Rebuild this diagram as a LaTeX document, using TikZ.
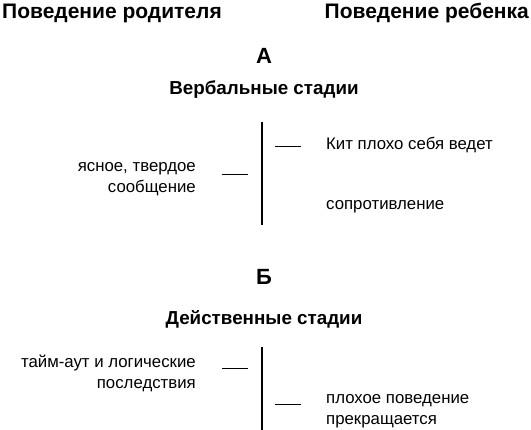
\documentclass[tikz,border=0pt]{standalone}
\usepackage{fontspec}
\setmainfont{Liberation Sans}
\usepackage{tikz}
\usetikzlibrary{positioning}
\tikzset{
    colhead/.style={
        font=\fontsize{21}{24}\selectfont\bfseries, inner sep=0pt
    },
    stagelabel/.style={
        font=\fontsize{22}{26}\selectfont\bfseries, inner sep=0pt
    },
    stagetitle/.style={
        font=\fontsize{18.8}{22}\selectfont\bfseries, inner sep=0pt
    },
    parentact/.style={
        font=\fontsize{16.8}{21}\selectfont, align=right, inner sep=0pt
    },
    childact/.style={
        font=\fontsize{16.8}{21}\selectfont, align=left, inner sep=0pt
    },
    timeline/.style={
        line width=1.2pt
    },
    tick/.style={
        line width=1pt
    },
}
\begin{document}
\begin{tikzpicture}[x=1pt, y=-1pt]
    \useasboundingbox (0,0) rectangle (531,430);

    % Column headers
    \node[colhead, anchor=west] (parenthead) at (2,13) {Поведение родителя};
    \node[colhead, anchor=east] (childhead) at (529,13) {Поведение ребенка};

    % Part A
    \node[stagelabel] (labelA) at (264,56) {А};
    \node[stagetitle] (verbal) at (264,90) {Вербальные стадии};

    \coordinate (lineAtop) at (262,122);
    \coordinate (lineAbot) at (262,225);
    \draw[timeline] (lineAtop) -- (lineAbot);

    \node[parentact, anchor=east] (message) at (196,179) {ясное, твердое\\сообщение};
    \coordinate (messageL) at (222,175);
    \coordinate (messageR) at (248,175);
    \draw[tick] (messageL) -- (messageR);

    \node[childact, anchor=west] (misbehave) at (326,145) {Кит плохо себя ведет};
    \coordinate (misbehaveL) at (275,147);
    \coordinate (misbehaveR) at (301,147);
    \draw[tick] (misbehaveL) -- (misbehaveR);

    \node[childact, anchor=west] (resist) at (326,207) {сопротивление};

    % Part B
    \node[stagelabel] (labelB) at (264,277) {Б};
    \node[stagetitle] (action) at (264,319) {Действенные стадии};

    \coordinate (lineBtop) at (262,347);
    \coordinate (lineBbot) at (262,430);
    \draw[timeline] (lineBtop) -- (lineBbot);

    \node[parentact, anchor=east] (timeout) at (196,373) {тайм-аут и логические\\последствия};
    \coordinate (timeoutL) at (222,369);
    \coordinate (timeoutR) at (248,369);
    \draw[tick] (timeoutL) -- (timeoutR);

    \node[childact, anchor=west] (stops) at (326,411) {плохое поведение\\прекращается};
    \coordinate (stopsL) at (275,405);
    \coordinate (stopsR) at (301,405);
    \draw[tick] (stopsL) -- (stopsR);

\end{tikzpicture}
\end{document}
